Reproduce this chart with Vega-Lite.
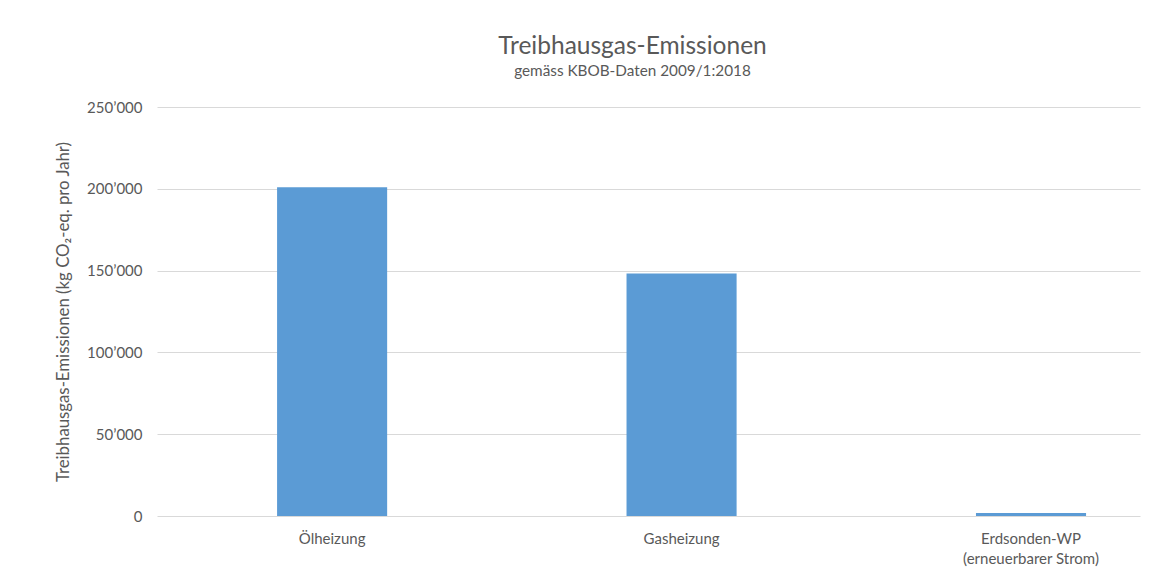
{
  "$schema": "https://vega.github.io/schema/vega-lite/v6.json",
  "autosize": "none",
  "width": 983,
  "height": 409,
  "padding": {"left": 157, "top": 107, "right": 9, "bottom": 63},
  "background": "white",
  "config": {
    "font": "Lato",
    "view": {"stroke": null},
    "locale": {"number": {"decimal": ".", "thousands": "’", "grouping": [3], "currency": ["", ""]}}
  },
  "title": {
    "text": "Treibhausgas-Emissionen",
    "subtitle": "gemäss KBOB-Daten 2009/1:2018",
    "anchor": "middle",
    "frame": "group",
    "dx": -16,
    "offset": 20,
    "fontSize": 24.5,
    "fontWeight": "normal",
    "color": "#595959",
    "subtitleFontSize": 15.3,
    "subtitleColor": "#595959",
    "subtitlePadding": 4
  },
  "data": {
    "values": [
      {"heizung": "Ölheizung", "emissionen": 201000},
      {"heizung": "Gasheizung", "emissionen": 148300},
      {"heizung": "Erdsonden-WP|(erneuerbarer Strom)", "emissionen": 1800}
    ]
  },
  "mark": {"type": "bar", "color": "#5b9bd5"},
  "encoding": {
    "x": {
      "field": "heizung",
      "type": "nominal",
      "sort": null,
      "scale": {"paddingInner": 0.685, "paddingOuter": 0.249, "align": 0.69},
      "axis": {
        "title": null,
        "labelAngle": 0,
        "domain": false,
        "ticks": false,
        "tickSize": 0,
        "labelPadding": 15,
        "labelFontSize": 15,
        "labelColor": "#595959",
        "labelExpr": "split(datum.label, '|')",
        "labelLineHeight": 20
      }
    },
    "y": {
      "field": "emissionen",
      "type": "quantitative",
      "scale": {"domain": [0, 250000]},
      "axis": {
        "title": "Treibhausgas-Emissionen (kg CO₂-eq. pro Jahr)",
        "titleFontSize": 16.8,
        "titleFontWeight": "normal",
        "titleColor": "#595959",
        "titlePadding": 14,
        "values": [0, 50000, 100000, 150000, 200000, 250000],
        "format": ",.0f",
        "domain": false,
        "ticks": false,
        "tickSize": 0,
        "labelPadding": 15,
        "labelFontSize": 15,
        "labelColor": "#595959",
        "gridColor": "#d9d9d9",
        "gridWidth": 1.2
      }
    }
  }
}
